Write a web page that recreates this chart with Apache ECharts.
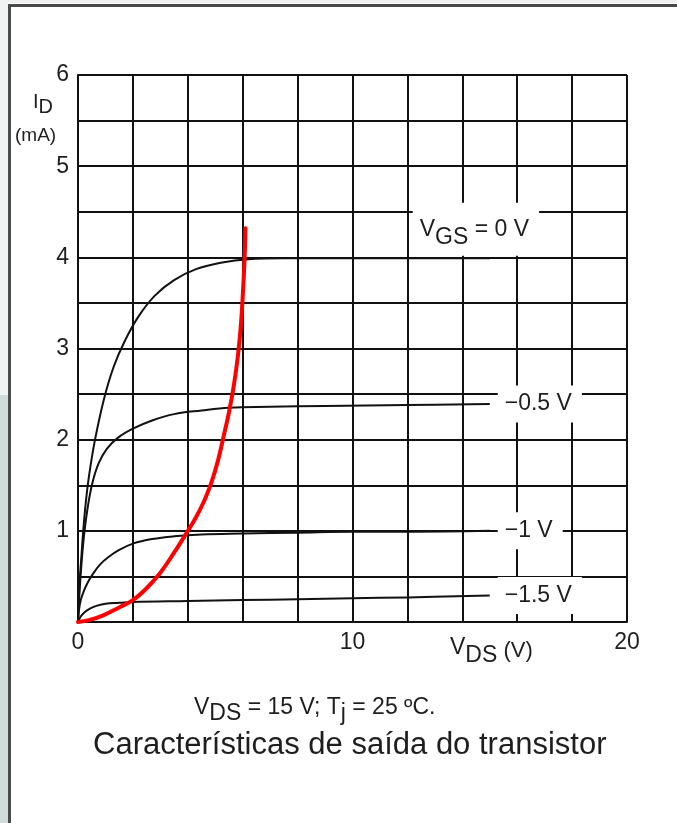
<!DOCTYPE html>
<html><head><meta charset="utf-8">
<script src="https://cdn.jsdelivr.net/npm/echarts@6/dist/echarts.min.js"></script>
<style>html,body{margin:0;padding:0;background:#fff}#c{width:677px;height:823px}</style>
</head><body><div id="c"></div>
<script>
// Tick labels shown
const xTickLabels = [0, 10, 20];
const yTickLabels = [1, 2, 3, 4, 5, 6];
// Output characteristic curves: [V_DS (V), I_D (mA)]
const vgs0 = [[0,0],[0.05,0.4],[0.12,0.7],[0.19,1.0],[0.28,1.3],[0.4,1.6],[0.62,2.0],[0.95,2.45],[1.3,2.8],[1.7,3.08],[2.2,3.35],[2.8,3.58],[3.5,3.75],[4.3,3.87],[5.2,3.94],[6.2,3.98],[7.5,3.99],[9,3.99],[12,3.99],[15,3.99]];
const vgsM05 = [[0,0],[0.06,0.35],[0.13,0.65],[0.22,0.95],[0.35,1.25],[0.52,1.52],[0.75,1.74],[1.05,1.9],[1.45,2.02],[2.0,2.12],[2.7,2.21],[3.5,2.28],[4.5,2.32],[5.5,2.35],[7,2.36],[9,2.37],[12,2.38],[15,2.39]];
const vgsM1 = [[0,0],[0.03,0.12],[0.1,0.24],[0.2,0.33],[0.35,0.43],[0.55,0.53],[0.8,0.63],[1.1,0.71],[1.5,0.79],[2.0,0.86],[2.7,0.91],[3.5,0.94],[4.5,0.96],[6,0.97],[8,0.98],[10,0.99],[12,0.99],[15,1.0]];
const vgsM15 = [[0,0],[0.1,0.06],[0.25,0.11],[0.45,0.15],[0.7,0.18],[1.0,0.2],[1.5,0.21],[2,0.22],[4,0.23],[6,0.24],[8,0.25],[10,0.26],[12,0.27],[15,0.29]];
const redCurve = [[0,0],[0.4,0.02],[0.9,0.07],[1.5,0.16],[2.0,0.24],[2.5,0.37],[3.0,0.54],[3.5,0.76],[3.9,0.95],[4.3,1.15],[4.6,1.33],[4.85,1.52],[5.1,1.77],[5.3,2.03],[5.5,2.3],[5.68,2.6],[5.83,2.93],[5.94,3.28],[6.02,3.68],[6.07,4.0],[6.1,4.32]];
// Curve labels (rich text)
const curveLabels = ['{n|V}{s|GS}{n| = 0 V}', '{n|−0.5 V}', '{n|−1 V}', '{n|−1.5 V}'];

const FONT = '"Liberation Sans", Arial, sans-serif';
const INK = '#1e1e1e';
const rich = {
  n: {fontSize: 23, fontFamily: FONT, color: INK},
  s: {fontSize: 23, fontFamily: FONT, color: INK, padding: [16, 0, 0, 0]}
};
function endLabel(fmt, offset) {
  return {show: true, formatter: fmt, distance: 8, offset: offset,
    backgroundColor: '#fff', padding: [7, 10, 7, 7], rich: rich,
    fontSize: 23, fontFamily: FONT, color: INK};
}
function curve(data, label, offset) {
  return {type: 'line', data: data, showSymbol: false, smooth: 0.4,
    lineStyle: {color: '#111', width: 2}, z: 3, endLabel: endLabel(label, offset)};
}
const chart = echarts.init(document.getElementById('c'), null, {renderer: 'canvas'});
const gridLine = {color: '#111', width: 2};
chart.setOption({
  animation: false,
  backgroundColor: '#fff',
  grid: {left: 78, top: 75, right: 50, bottom: 201},
  xAxis: {type: 'value', min: 0, max: 20, interval: 2,
    axisLine: {show: true, lineStyle: gridLine}, axisTick: {show: false},
    splitLine: {show: true, lineStyle: gridLine},
    axisLabel: {formatter: v => xTickLabels.includes(v) ? String(v) : '', fontSize: 23, fontFamily: FONT, color: INK, margin: 9}},
  yAxis: {type: 'value', min: 0, max: 6, interval: 0.5,
    axisLine: {show: true, lineStyle: gridLine}, axisTick: {show: false},
    splitLine: {show: true, lineStyle: gridLine},
    axisLabel: {formatter: v => yTickLabels.includes(v) ? String(v) : '', fontSize: 23, fontFamily: FONT, color: INK, margin: 9}},
  series: [
    curve(vgs0, curveLabels[0], [-85, -29]),
    curve(vgsM05, curveLabels[1], [0, 0]),
    curve(vgsM1, curveLabels[2], [0, 0]),
    curve(vgsM15, curveLabels[3], [0, 0]),
    {type: 'line', data: redCurve, showSymbol: false, smooth: 0.4, z: 4,
      lineStyle: {color: '#ff0000', width: 4, cap: 'round'}}
  ],
  graphic: [
    {type: 'rect', shape: {x: 0, y: 0, width: 8, height: 395}, style: {fill: '#f1f2f2'}, silent: true},
    {type: 'rect', shape: {x: 0, y: 395, width: 8, height: 428}, style: {fill: '#cfdcdb'}, silent: true},
    {type: 'rect', shape: {x: 8, y: 0, width: 669, height: 3}, style: {fill: '#f0f0f0'}, silent: true},
    {type: 'rect', shape: {x: 8, y: 4, width: 3, height: 819}, style: {fill: '#4a4a4a'}, silent: true},
    {type: 'rect', shape: {x: 8, y: 4, width: 669, height: 3}, style: {fill: '#4a4a4a'}, silent: true},
    {type: 'text', left: 33, top: 92, style: {text: '{n|I}{s|D}', rich: {
      n: {fontSize: 20, fontFamily: FONT, fill: INK},
      s: {fontSize: 20, fontFamily: FONT, fill: INK, padding: [10, 0, 0, 0]}}}},
    {type: 'text', left: 15, top: 126, style: {text: '(mA)', fontSize: 19, fontFamily: FONT, fill: INK}},
    {type: 'text', left: 450, top: 636, style: {text: '{n|V}{s|DS}{p| (V)}', rich: {
      n: {fontSize: 23, fontFamily: FONT, fill: INK},
      s: {fontSize: 23, fontFamily: FONT, fill: INK, padding: [16, 0, 0, 0]},
      p: {fontSize: 22, fontFamily: FONT, fill: INK, padding: [6, 0, 0, 0]}}}},
    {type: 'text', left: 194, top: 696, style: {text: '{n|V}{s|DS}{n| = 15 V; T}{s|j}{n| = 25 ºC.}', rich: {
      n: {fontSize: 23, fontFamily: FONT, fill: INK},
      s: {fontSize: 23, fontFamily: FONT, fill: INK, padding: [12, 0, 0, 0]}}}},
    {type: 'text', left: 93, top: 730, style: {text: 'Características de saída do transistor', fontSize: 31, fontFamily: FONT, fill: INK}}
  ]
});
</script></body></html>
